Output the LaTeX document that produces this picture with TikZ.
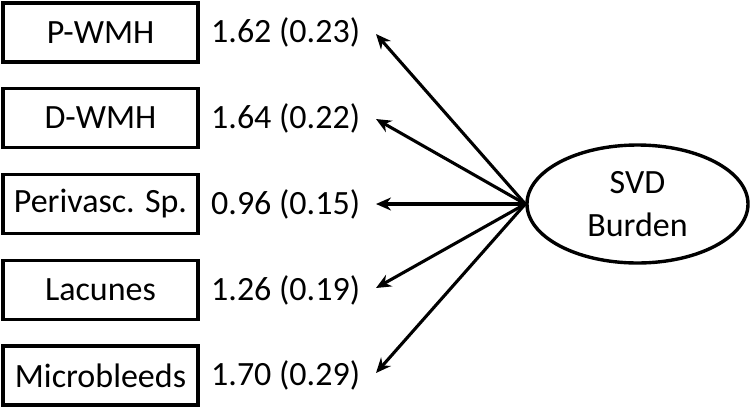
\documentclass[tikz,border=0pt]{standalone}
\usepackage{fontspec}
\setmainfont{Carlito}
\usepackage{tikz}
\usetikzlibrary{shapes,arrows.meta,positioning,calc}

\begin{document}
\begin{tikzpicture}[x=1pt, y=-1pt,
    every node/.style={font=\fontsize{34}{43}\selectfont},
    indicator/.style={rectangle, draw, line width=3.4pt, minimum width=195pt, minimum height=59pt, inner sep=0pt},
    loading/.style={anchor=west, inner sep=0pt},
    latent/.style={ellipse, draw, line width=3.4pt, minimum width=221pt, minimum height=118pt, align=center, inner sep=0pt},
    path/.style={-{Stealth[length=15pt, width=13pt]}, line width=3.1pt}]
    \useasboundingbox (0,0) rectangle (750,408);

    % Observed indicators
    \node[indicator] (pwmh) at (100.5,32.5) {P-WMH};
    \node[indicator] (dwmh) at (100.5,118) {D-WMH};
    \node[indicator] (pvs) at (100.5,204) {Perivasc. Sp.};
    \node[indicator] (lac) at (100.5,290) {Lacunes};
    \node[indicator] (mb) at (100.5,375.5) {Microbleeds};

    % Loadings (SE)
    \node[loading] (l1) at (211,32.5) {1.62 (0.23)};
    \node[loading] (l2) at (211,118) {1.64 (0.22)};
    \node[loading] (l3) at (211,204) {0.96 (0.15)};
    \node[loading] (l4) at (211,290) {1.26 (0.19)};
    \node[loading] (l5) at (211,375.5) {1.70 (0.29)};

    % Latent factor
    \node[latent] (svd) at (637.5,204) {SVD\\Burden};

    % Arrow ends
    \coordinate (t1) at (376,34);
    \coordinate (t2) at (376,119);
    \coordinate (t3) at (376,204);
    \coordinate (t4) at (376,288);
    \coordinate (t5) at (376,373);

    \draw[path] (svd.west) -- (t1);
    \draw[path] (svd.west) -- (t2);
    \draw[path] (svd.west) -- (t3);
    \draw[path] (svd.west) -- (t4);
    \draw[path] (svd.west) -- (t5);
\end{tikzpicture}
\end{document}
